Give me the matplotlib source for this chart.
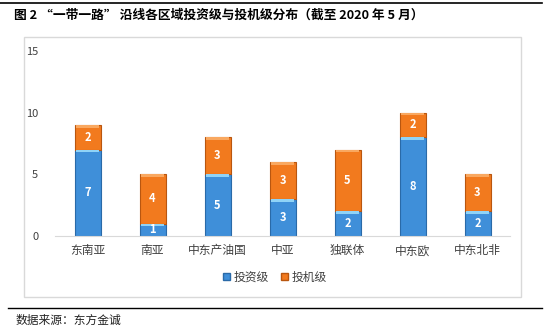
import matplotlib.pyplot as plt
import numpy as np
from matplotlib.patches import Rectangle
from matplotlib.lines import Line2D

plt.rcParams['font.family'] = ['Noto Sans CJK SC', 'DejaVu Sans']

regions = ["东南亚", "南亚", "中东产油国", "中亚", "独联体", "中东欧", "中东北非"]
invest_grade = [7, 1, 5, 3, 2, 8, 2]
spec_grade = [2, 4, 3, 3, 5, 2, 3]

W, H = 550, 329
fig = plt.figure(figsize=(W / 100, H / 100), dpi=100)

def px(x0, y0, x1, y1):
    # pixel box (top-left origin) -> figure fraction rect
    return [x0 / W, 1 - y1 / H, (x1 - x0) / W, (y1 - y0) / H]

# outer chart frame
fig.patches.append(Rectangle((24 / W, 1 - 297 / H), 497 / W, 260 / H,
                             transform=fig.transFigure, fill=False,
                             edgecolor="#d9d9d9", lw=1))
# rules above and below
fig.add_artist(Line2D([0.0, 0.985], [1 - 3 / H, 1 - 3 / H], color="black", lw=1.2,
                      transform=fig.transFigure))
fig.add_artist(Line2D([0.015, 0.985], [1 - 308 / H, 1 - 308 / H], color="black", lw=1.0,
                      transform=fig.transFigure))

fig.text(14 / W, 1 - 15 / H, "图 2 “一带一路” 沿线各区域投资级与投机级分布（截至 2020 年 5 月）",
         fontsize=9.2, fontweight="bold", va="center", ha="left")
fig.text(16 / W, 1 - 320 / H, "数据来源：东方金诚", fontsize=8.5, va="center", ha="left",
         color="#222222")

ax = fig.add_axes(px(55, 51, 510, 236))
x = np.arange(len(regions))
bw = 0.4
blue, blue_dk, blue_hi = "#3f8fd9", "#2a6aa8", "#8fd3f7"
orange, orange_dk, orange_hi = "#f27a1e", "#b9560f", "#f9a860"

inv = np.array(invest_grade)
spc = np.array(spec_grade)
ax.bar(x, inv, bw, color=blue, edgecolor=blue_dk, lw=0.8, zorder=2)
ax.bar(x, spc, bw, bottom=inv, color=orange, edgecolor=orange_dk, lw=0.8, zorder=2)
# bevel highlight along the top of each segment
hl = 0.22
ax.bar(x, np.minimum(hl, inv), bw * 0.9, bottom=inv - np.minimum(hl, inv),
       color=blue_hi, lw=0, zorder=3)
ax.bar(x, hl, bw * 0.9, bottom=inv + spc - hl, color=orange_hi, lw=0, zorder=3)

for i in range(len(regions)):
    ax.text(x[i], inv[i] / 2, str(inv[i]), ha="center", va="center",
            color="white", fontsize=8, fontweight="bold", zorder=4)
    ax.text(x[i], inv[i] + spc[i] / 2, str(spc[i]), ha="center", va="center",
            color="white", fontsize=8, fontweight="bold", zorder=4)

ax.set_xlim(-0.5, len(regions) - 0.5)
ax.set_ylim(0, 15)
ax.set_yticks([0, 5, 10, 15])
ax.set_xticks(x)
ax.set_xticklabels(regions, fontsize=8.5, color="#404040")
ax.tick_params(axis="y", length=0, labelsize=8, labelcolor="#404040", pad=12)
ax.tick_params(axis="x", length=0, pad=6)
for s in ["top", "right", "left"]:
    ax.spines[s].set_visible(False)
ax.spines["bottom"].set_color("#d9d9d9")

handles = [Rectangle((0, 0), 1, 1, facecolor=blue, edgecolor=blue_dk),
           Rectangle((0, 0), 1, 1, facecolor=orange, edgecolor=orange_dk)]
fig.legend(handles, ["投资级", "投机级"], loc="center", bbox_to_anchor=(275 / W, 1 - 277 / H),
           ncol=2, frameon=False, fontsize=8.5, handlelength=0.6, handleheight=0.6,
           handletextpad=0.3, columnspacing=1.0, labelcolor="#404040")

fig.savefig("out.png", dpi=100)
